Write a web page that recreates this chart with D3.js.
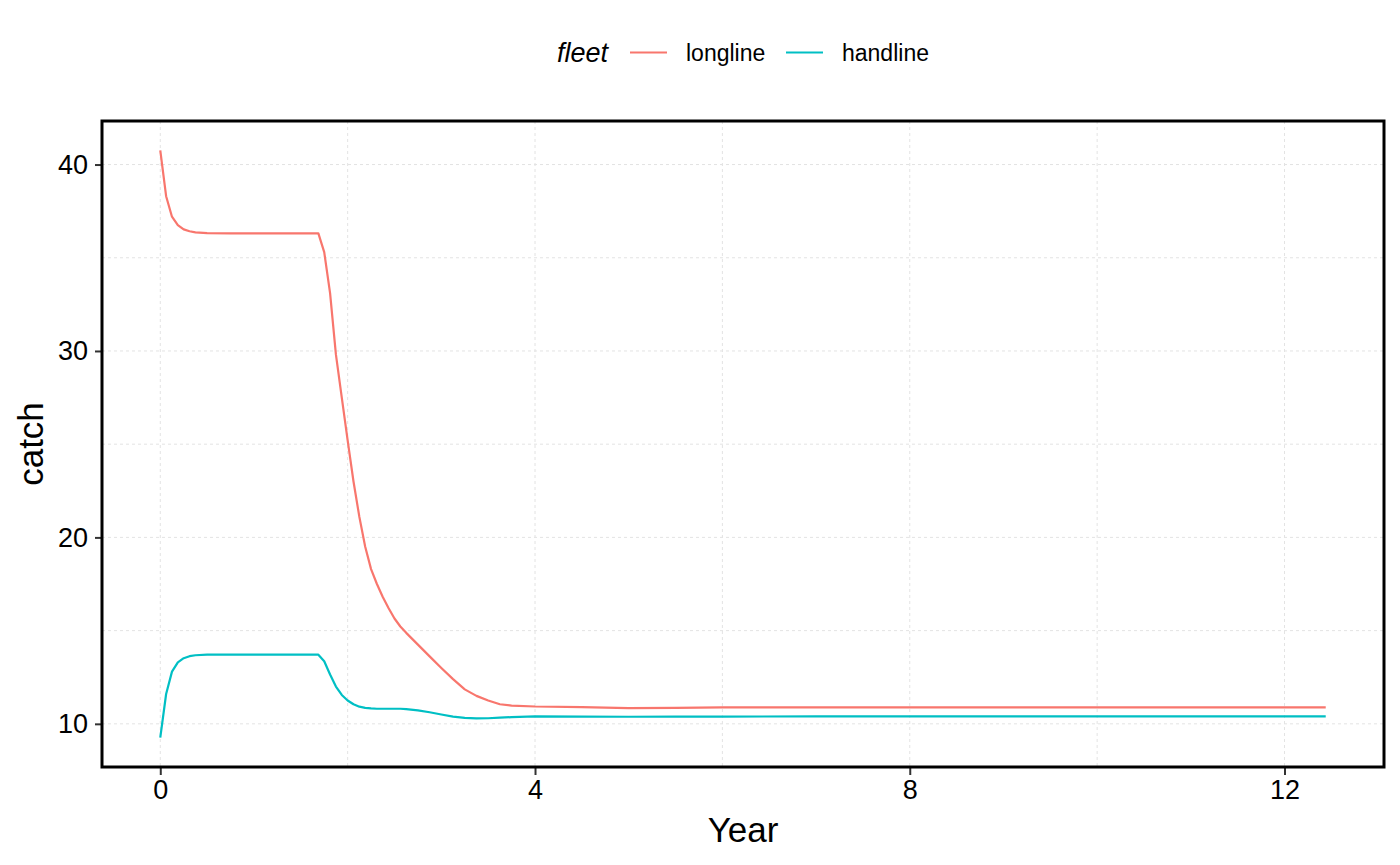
<!DOCTYPE html>
<html>
<head>
<meta charset="utf-8">
<script src="https://cdn.jsdelivr.net/npm/d3@7"></script>
<style>
  body { margin: 0; background: #fff; }
  text { font-family: "Liberation Sans", Arial, Helvetica, sans-serif; }
</style>
</head>
<body>
<div id="chart"></div>
<script>
// values
const years = [0, 0.0625, 0.125, 0.1875, 0.25, 0.3125, 0.375, 0.5, 0.75, 1, 1.5, 1.6875,
  1.75, 1.8125, 1.875, 1.9375, 2, 2.0625, 2.125, 2.1875, 2.25, 2.3125, 2.375, 2.4375, 2.5,
  2.5625, 2.625, 2.75, 2.875, 3, 3.125, 3.25, 3.375, 3.5, 3.625, 3.75, 4, 4.5, 5, 5.5, 6,
  7, 8, 10, 12.44];
const longline = [40.76, 38.3, 37.2, 36.75, 36.52, 36.42, 36.36, 36.32, 36.31, 36.31, 36.31, 36.31,
  35.3, 33.1, 29.8, 27.5, 25.2, 23.0, 21.1, 19.5, 18.3, 17.5, 16.8, 16.2, 15.65,
  15.22, 14.88, 14.25, 13.62, 13.0, 12.4, 11.85, 11.5, 11.25, 11.05, 10.98, 10.93, 10.9, 10.84, 10.86, 10.88,
  10.88, 10.88, 10.88, 10.88];
const handline = [9.26, 11.6, 12.8, 13.3, 13.52, 13.63, 13.68, 13.71, 13.71, 13.71, 13.71, 13.71,
  13.36, 12.65, 12.0, 11.55, 11.25, 11.05, 10.92, 10.86, 10.83, 10.81, 10.81, 10.81, 10.81,
  10.81, 10.79, 10.72, 10.62, 10.5, 10.39, 10.32, 10.29, 10.3, 10.33, 10.36, 10.4, 10.39, 10.38, 10.39, 10.39,
  10.4, 10.4, 10.4, 10.4];
const fleets = ["longline", "handline"];
const fleetColors = ["#F8766D", "#00BFC4"];
const xMajor = [0, 4, 8, 12];
const xMinor = [2, 6, 10];
const yMajor = [10, 20, 30, 40];
const yMinor = [15, 25, 35];

const W = 1400, H = 865;
const panel = { left: 102, right: 1384, top: 121, bottom: 767 };

// ggplot style 5% expansion
const expand = ([a, b]) => { const d = (b - a) * 0.05; return [a - d, b + d]; };

const x = d3.scaleLinear()
  .domain(expand(d3.extent(years)))
  .range([panel.left, panel.right]);
const y = d3.scaleLinear()
  .domain(expand(d3.extent(longline.concat(handline))))
  .range([panel.bottom, panel.top]);

const svg = d3.select("#chart").append("svg")
  .attr("width", W)
  .attr("height", H);

// grid
const grid = svg.append("g")
  .attr("stroke", "#e3e3e3")
  .attr("stroke-width", 1)
  .attr("stroke-dasharray", "3,3");
grid.selectAll("line.gx")
  .data(xMajor.concat(xMinor))
  .join("line")
  .attr("x1", d => x(d)).attr("x2", d => x(d))
  .attr("y1", panel.top).attr("y2", panel.bottom);
grid.selectAll("line.gy")
  .data(yMajor.concat(yMinor))
  .join("line")
  .attr("y1", d => y(d)).attr("y2", d => y(d))
  .attr("x1", panel.left).attr("x2", panel.right);

// lines
const series = [longline, handline];
const line = d3.line()
  .x((d, i) => x(years[i]))
  .y(d => y(d));
svg.append("g").selectAll("path")
  .data(series)
  .join("path")
  .attr("d", d => line(d))
  .attr("fill", "none")
  .attr("stroke", (d, i) => fleetColors[i])
  .attr("stroke-width", 2.2)
  .attr("stroke-linejoin", "round");

// axes
const xAxis = svg.append("g")
  .attr("transform", `translate(0,${panel.bottom})`)
  .call(d3.axisBottom(x).tickValues(xMajor).tickSize(8).tickPadding(5).tickFormat(d3.format("d")));
const yAxis = svg.append("g")
  .attr("transform", `translate(${panel.left},0)`)
  .call(d3.axisLeft(y).tickValues(yMajor).tickSize(7).tickPadding(7).tickFormat(d3.format("d")));
[xAxis, yAxis].forEach(g => {
  g.select(".domain").remove();
  g.selectAll(".tick line").attr("stroke", "#333").attr("stroke-width", 2);
  g.selectAll(".tick text").attr("fill", "#000").style("font-size", "27px");
});

// panel border
svg.append("rect")
  .attr("x", panel.left).attr("y", panel.top)
  .attr("width", panel.right - panel.left)
  .attr("height", panel.bottom - panel.top)
  .attr("fill", "none")
  .attr("stroke", "#000")
  .attr("stroke-width", 3);

// axis titles
svg.append("text")
  .attr("x", (panel.left + panel.right) / 2)
  .attr("y", 842)
  .attr("text-anchor", "middle")
  .style("font-size", "35px")
  .text("Year");
svg.append("text")
  .attr("transform", `translate(43,${(panel.top + panel.bottom) / 2}) rotate(-90)`)
  .attr("text-anchor", "middle")
  .style("font-size", "35px")
  .text("catch");

// legend
const legend = svg.append("g");
legend.append("text")
  .attr("x", 557).attr("y", 62)
  .style("font-size", "27px")
  .style("font-style", "italic")
  .text("fleet");
const keyX = [630, 786];
const item = legend.selectAll("g.item")
  .data(fleets)
  .join("g")
  .attr("transform", (d, i) => `translate(${keyX[i]},0)`);
item.append("line")
  .attr("x1", 0).attr("x2", 37)
  .attr("y1", 52.5).attr("y2", 52.5)
  .attr("stroke", (d, i) => fleetColors[i])
  .attr("stroke-width", 2.2);
item.append("text")
  .attr("x", 56).attr("y", 61)
  .style("font-size", "23px")
  .text(d => d);
</script>
</body>
</html>
